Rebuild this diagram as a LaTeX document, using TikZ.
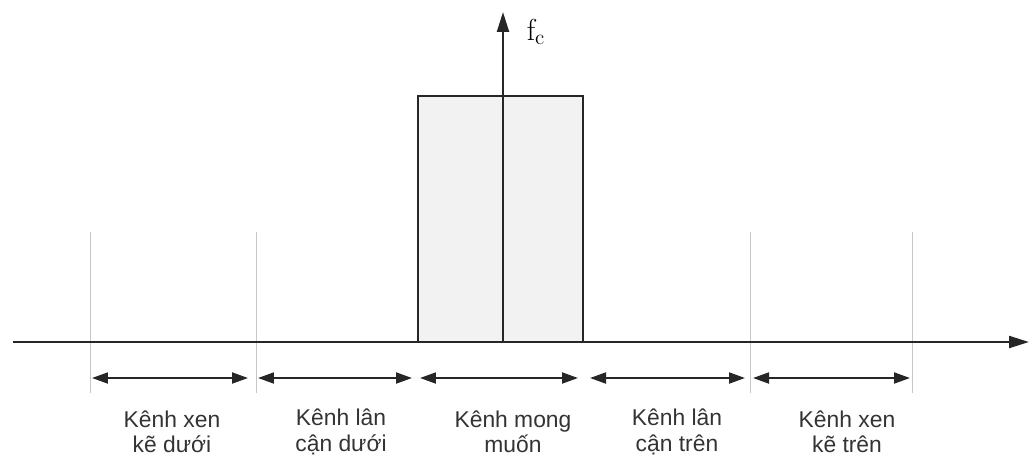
\documentclass[tikz,border=0pt]{standalone}
\usepackage{fontspec}
\usepackage{tikz}
\usetikzlibrary{arrows.meta}
\newfontfamily\chanfont{Liberation Sans}
\tikzset{
    axisline/.style={-{Triangle[length=4mm,width=2.4mm]}, line width=1.3pt, draw=black!85},
    guideline/.style={draw=black!22, line width=0.5pt},
    bandbox/.style={draw=black!85, line width=1.2pt, fill=black!5},
    chanarrow/.style={{Triangle[length=3.2mm,width=2.2mm]}-{Triangle[length=3.2mm,width=2.2mm]}, line width=1.1pt, draw=black!85},
    chanlabel/.style={align=center, text=black!80, font=\chanfont\fontsize{13}{14.5}\selectfont},
}

\begin{document}
\begin{tikzpicture}[x=0.02cm, y=-0.02cm]
    \useasboundingbox (0,0) rectangle (1029,457);

    % Wanted channel band
    \draw[bandbox] (418,96) rectangle (583,342);

    % Channel borders
    \foreach \gx in {90,256,750,912}
        \draw[guideline] (\gx,232) -- (\gx,393);

    % Axes
    \coordinate (origin) at (13,342);
    \coordinate (xend) at (1029,342);
    \coordinate (fbase) at (503,342);
    \coordinate (fend) at (503,12);
    \draw[axisline] (origin) -- (xend);
    \draw[axisline] (fbase) -- (fend);
    \node[font=\LARGE] (fc) at (536,32) {$\mathrm{f}_{\mathrm{c}}$};

    % Channel widths
    \foreach \a/\b [count=\i] in {92/248, 258/412, 420/578, 590/745, 753/910} {
        \coordinate (cl\i) at (\a,378);
        \coordinate (cr\i) at (\b,378);
        \draw[chanarrow] (cl\i) -- (cr\i);
    }

    % Channel names
    \node[chanlabel] (lowalt) at (172,432) {Kênh xen\\kẽ dưới};
    \node[chanlabel] (lowadj) at (341,432) {Kênh lân\\cận dưới};
    \node[chanlabel] (wanted) at (513,432) {Kênh mong\\muốn};
    \node[chanlabel] (upadj) at (677,432) {Kênh lân\\cận trên};
    \node[chanlabel] (upalt) at (847,432) {Kênh xen\\kẽ trên};
\end{tikzpicture}
\end{document}
